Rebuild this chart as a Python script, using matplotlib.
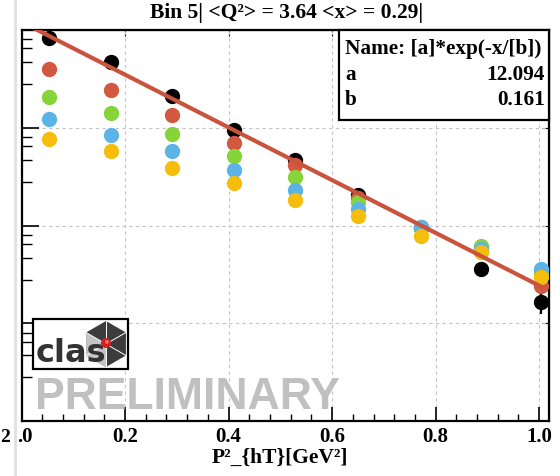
import numpy as np
import matplotlib
matplotlib.use("Agg")
import matplotlib.pyplot as plt
from matplotlib.patches import Rectangle, Polygon, Circle
from matplotlib.ticker import MultipleLocator, LogLocator, NullFormatter

# data
pt2 = [0.053, 0.173, 0.290, 0.410, 0.528, 0.650, 0.772, 0.887, 1.004]
black = [8.3, 4.7, 2.12, 0.95, 0.47, 0.207, 0.094, 0.036, 0.0164]
black_err = [0.1, 0.05, 0.02, 0.01, 0.006, 0.004, 0.003, 0.006, 0.004]
red = [4.0, 2.44, 1.36, 0.70, 0.42, 0.193, 0.096, 0.055, 0.0239]
green = [2.07, 1.42, 0.87, 0.52, 0.316, 0.172, 0.095, 0.061, 0.033]
blue = [1.24, 0.85, 0.58, 0.37, 0.233, 0.146, 0.097, 0.057, 0.036]
yellow = [0.77, 0.58, 0.39, 0.275, 0.184, 0.126, 0.079, 0.053, 0.030]

fit_a = 12.094
fit_b = 0.161

xticks = [0.0, 0.2, 0.4, 0.6, 0.8, 1.0]
xticklabels = ["", "0.2", "0.4", "0.6", "0.8", "1.0"]  # "0.0" is cut by the crop edge

serif = "Liberation Serif"

fig = plt.figure(figsize=(5.6, 4.76), dpi=100)
ax = fig.add_axes([21.5 / 560, 1 - 421 / 476, 527 / 560, 391 / 476])

ax.set_yscale("log")
ax.set_xlim(0, 1.018)
ax.set_ylim(1e-3, 10)

ax.errorbar(pt2, black, yerr=black_err, fmt="o", color="black", ms=10,
            elinewidth=1.6, capsize=0, zorder=3)
ax.plot(pt2, red, "o", color="#d2583f", ms=10, zorder=4)
ax.plot(pt2, green, "o", color="#86d43a", ms=10, zorder=5)
ax.plot(pt2, blue, "o", color="#5cb3e6", ms=10, zorder=6)
ax.plot(pt2, yellow, "o", color="#f5bd0c", ms=10, zorder=7)

xf = np.linspace(0, 1.005, 200)
ax.plot(xf, fit_a * np.exp(-xf / fit_b), color="#c9533c", lw=3, zorder=8)

# axes look
for s in ax.spines.values():
    s.set_linewidth(1.6)
ax.xaxis.set_minor_locator(MultipleLocator(0.04))
ax.yaxis.set_major_locator(LogLocator(base=10, numticks=10))
ax.yaxis.set_minor_locator(LogLocator(base=10, subs=(2.8, 4.7, 6.5, 8.0), numticks=10))
ax.yaxis.set_major_formatter(NullFormatter())
ax.yaxis.set_minor_formatter(NullFormatter())
ax.tick_params(axis="x", which="major", direction="in", length=10, width=1.2,
               labelsize=15, pad=4)
ax.tick_params(axis="x", which="minor", direction="in", length=5, width=1)
ax.tick_params(axis="y", which="major", direction="in", length=12, width=1.2)
ax.tick_params(axis="y", which="minor", direction="in", length=7, width=1)
ax.set_xticks(xticks)
ax.set_xticklabels(xticklabels, fontfamily=serif, fontweight="bold")
ax.grid(True, which="major", color="#c4c4c4", lw=0.8, linestyle=(0, (3, 3)))

top = ax.secondary_xaxis("top")
top.set_xticks(xticks[1:])
top.tick_params(direction="in", length=4, labeltop=False)
right = ax.secondary_yaxis("right")
right.set_yticks([1e-2, 1e-1, 1])
right.yaxis.set_minor_locator(matplotlib.ticker.NullLocator())
right.tick_params(direction="in", length=5, labelright=False)

# stats box
ax.add_patch(Rectangle((0.6025, 0.77), 0.3975, 0.23, transform=ax.transAxes,
                       facecolor="white", edgecolor="black", lw=1.6, zorder=20,
                       clip_on=False))
box_font = dict(fontsize=15.3, fontfamily=serif, fontweight="bold", zorder=21,
                transform=ax.transAxes, va="center")
ax.text(0.614, 0.952, "Name: [a]*exp(-x/[b])", ha="left", **box_font)
ax.text(0.614, 0.885, "a", ha="left", **box_font)
ax.text(0.9934, 0.885, f"{fit_a:.3f}", ha="right", **box_font)
ax.text(0.614, 0.821, "b", ha="left", **box_font)
ax.text(0.9934, 0.821, f"{fit_b:.3f}", ha="right", **box_font)

fig.text(286.5 / 560, 1 - 13 / 476, "Bin 5| <Q²> = 3.64 <x> = 0.29|",
         ha="center", va="center", fontsize=15.5, fontfamily=serif,
         fontweight="bold")
fig.text(348 / 560, 1 - 458 / 476, "P²_{hT}[GeV²]", ha="right", va="center",
         fontsize=15.5, fontfamily=serif, fontweight="bold")

# overlay in pixel coords: crop edge, logo, watermark
ov = fig.add_axes([0, 0, 1, 1])
ov.set_xlim(0, 560)
ov.set_ylim(476, 0)
ov.axis("off")
ov.patch.set_alpha(0)
ov.add_patch(Rectangle((13.5, 0), 3, 476, facecolor="#e2e2e2", edgecolor="none"))
ov.text(0.5, 437, "2", ha="left", va="center", fontsize=14, fontfamily=serif,
        fontweight="bold")
ov.text(17.5, 437, ".0", ha="left", va="center", fontsize=15, fontfamily=serif,
        fontweight="bold")

ov.text(35, 409, "PRELIMINARY", ha="left", va="baseline", fontsize=32,
        fontfamily="Liberation Sans", fontweight="bold", color="#c0c0c0")

ov.add_patch(Rectangle((33, 319), 95, 50, facecolor="white", edgecolor="black",
                       lw=1.6, zorder=1))
cx, cy, r = 106, 344, 23
ang = np.radians([90, 30, -30, -90, -150, 150])
vx = cx + r * np.cos(ang)
vy = cy - r * np.sin(ang)
ov.add_patch(Polygon(np.column_stack([vx, vy]), closed=True,
                     facecolor="#3c3c3c", edgecolor="none", zorder=2))
ov.add_patch(Polygon([(cx, cy), (vx[3], vy[3]), (vx[4], vy[4]), (vx[5], vy[5])],
                     closed=True, facecolor="#c4c4c4", edgecolor="none",
                     zorder=2.1))
for px, py in zip(vx, vy):
    ov.plot([cx, px], [cy, py], color="white", lw=0.7, zorder=2.2)
ov.text(36, 362, "clas", ha="left", va="baseline", fontsize=23,
        fontfamily="DejaVu Sans", fontweight="bold", color="#333333", zorder=3)
ov.add_patch(Circle((cx, cy - 1), 5, facecolor="#d41f1f", edgecolor="none",
                    zorder=4))
ov.add_patch(Circle((cx + 1, cy - 2), 1.8, facecolor="#f07070", edgecolor="none",
                    zorder=4.1))

fig.savefig("out.png", dpi=100)
